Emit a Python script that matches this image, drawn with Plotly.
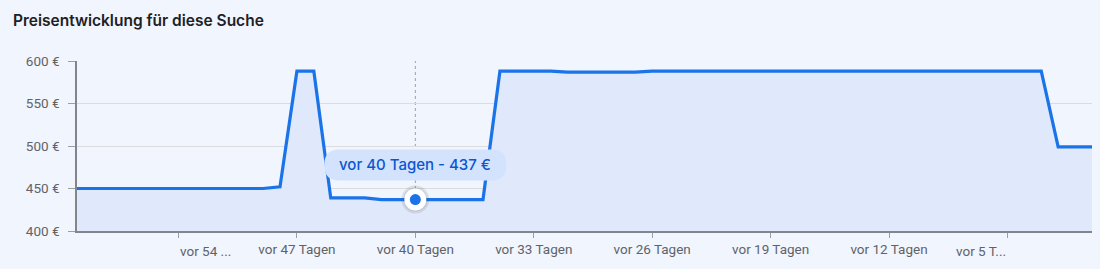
import plotly.graph_objects as go

# ---- data ----
days_ago = list(range(60, -1, -1))  # 60 .. 0
prices = (
    [450] * 12            # days 60..49
    + [452]               # day 48
    + [588, 588]          # days 47, 46
    + [439, 439, 439]     # days 45..43
    + [437] * 7           # days 42..36
    + [588] * 4           # days 35..32
    + [587] * 5           # days 31..27
    + [588] * 24          # days 26..3
    + [499] * 3           # days 2..0
)
tick_days = [54, 47, 40, 33, 26, 19, 12, 5]
tick_labels = ["vor 54 ...", "vor 47 Tagen", "vor 40 Tagen", "vor 33 Tagen",
               "vor 26 Tagen", "vor 19 Tagen", "vor 12 Tagen", "vor 5 T..."]
y_ticks = [400, 450, 500, 550, 600]
y_tick_labels = ["400 €", "450 €", "500 €", "550 €", "600 €"]
hover_day = 40
title = "Preisentwicklung für diese Suche"

hover_price = prices[days_ago.index(hover_day)]

BG = "#f1f5fe"
BLUE = "#1a73e8"
TICK_FONT = dict(family="Roboto", size=13.5, color="#5f6368")

fig = go.Figure()
fig.add_trace(go.Scatter(
    x=days_ago, y=prices, mode="lines",
    line=dict(color=BLUE, width=3.2),
    fill="tozeroy", fillcolor="#dfe9fb",
    hoverinfo="skip",
))
# hover marker: shadow, white ring, blue dot
fig.add_trace(go.Scatter(x=[hover_day], y=[hover_price], mode="markers",
                         marker=dict(size=28, color="rgba(60,64,67,0.12)", line=dict(width=0)),
                         hoverinfo="skip"))
fig.add_trace(go.Scatter(x=[hover_day], y=[hover_price], mode="markers",
                         marker=dict(size=24, color="rgba(60,64,67,0.10)", line=dict(width=0)),
                         hoverinfo="skip"))
fig.add_trace(go.Scatter(x=[hover_day], y=[hover_price], mode="markers",
                         marker=dict(size=22, color="white", line=dict(width=0)),
                         hoverinfo="skip"))
fig.add_trace(go.Scatter(x=[hover_day], y=[hover_price], mode="markers",
                         marker=dict(size=11, color=BLUE, line=dict(width=0)),
                         hoverinfo="skip"))

# dotted vertical hover line
fig.add_shape(type="line", xref="x", yref="paper", x0=hover_day, x1=hover_day,
              y0=0, y1=1.0, line=dict(color="#9aa0a6", width=1, dash="dot"), layer="below")

# tooltip pill (pixel-sized, anchored at hover point)
x0, x1, y0, y1, r = -91, 91, 19, 50, 15
path = (f"M {x0+r},{y0} L {x1-r},{y0} Q {x1},{y0} {x1},{y0+r} L {x1},{y1-r} "
        f"Q {x1},{y1} {x1-r},{y1} L {x0+r},{y1} Q {x0},{y1} {x0},{y1-r} "
        f"L {x0},{y0+r} Q {x0},{y0} {x0+r},{y0} Z")
fig.add_shape(type="path", xref="x", yref="y", xsizemode="pixel", ysizemode="pixel",
              xanchor=hover_day, yanchor=hover_price, path=path,
              fillcolor="#d3e3fd", line=dict(width=0), layer="above")
fig.add_annotation(x=hover_day, y=hover_price, yshift=35, showarrow=False,
                   text=f"vor {hover_day} Tagen - {hover_price} €",
                   font=dict(family="Inter", size=15, color="#0b57d0", weight=500))

# edge tick labels are aligned to their tick instead of centred
shown_text = list(tick_labels)
shown_text[0] = ""
shown_text[-1] = ""
fig.add_annotation(x=tick_days[0], xref="x", y=0, yref="paper", yanchor="top",
                   xanchor="left", yshift=-10, xshift=-1, showarrow=False,
                   text=tick_labels[0], font=TICK_FONT)
fig.add_annotation(x=tick_days[-1], xref="x", y=0, yref="paper", yanchor="top",
                   xanchor="right", yshift=-10, xshift=1, showarrow=False,
                   text=tick_labels[-1], font=TICK_FONT)

fig.update_layout(
    width=1100, height=269,
    margin=dict(l=77, r=8, t=61, b=38),
    paper_bgcolor=BG, plot_bgcolor=BG,
    showlegend=False,
    title=dict(text=title, x=0, xref="container", xanchor="left", y=1, yref="container",
               yanchor="top", pad=dict(t=15, l=13),
               font=dict(family="Inter", size=15.5, color="#202124", weight=600)),
    font=dict(family="Roboto", size=12, color="#5f6368"),
    xaxis=dict(range=[60, 0], tickmode="array", tickvals=tick_days, ticktext=shown_text,
               showgrid=False, zeroline=False, showline=True, linecolor="#80868b",
               linewidth=1.5, ticks="outside", ticklen=5, tickcolor="#9aa0a6",
               tickfont=TICK_FONT, fixedrange=True),
    yaxis=dict(range=[400, 600], tickmode="array", tickvals=y_ticks, ticktext=y_tick_labels,
               showgrid=True, gridcolor="#dadce0", gridwidth=1, zeroline=False,
               showline=True, linecolor="#80868b", linewidth=1.5, ticks="outside",
               ticklen=7, tickcolor="#9aa0a6", ticklabelstandoff=6,
               tickfont=TICK_FONT, fixedrange=True),
)

fig.write_html("out.html")
